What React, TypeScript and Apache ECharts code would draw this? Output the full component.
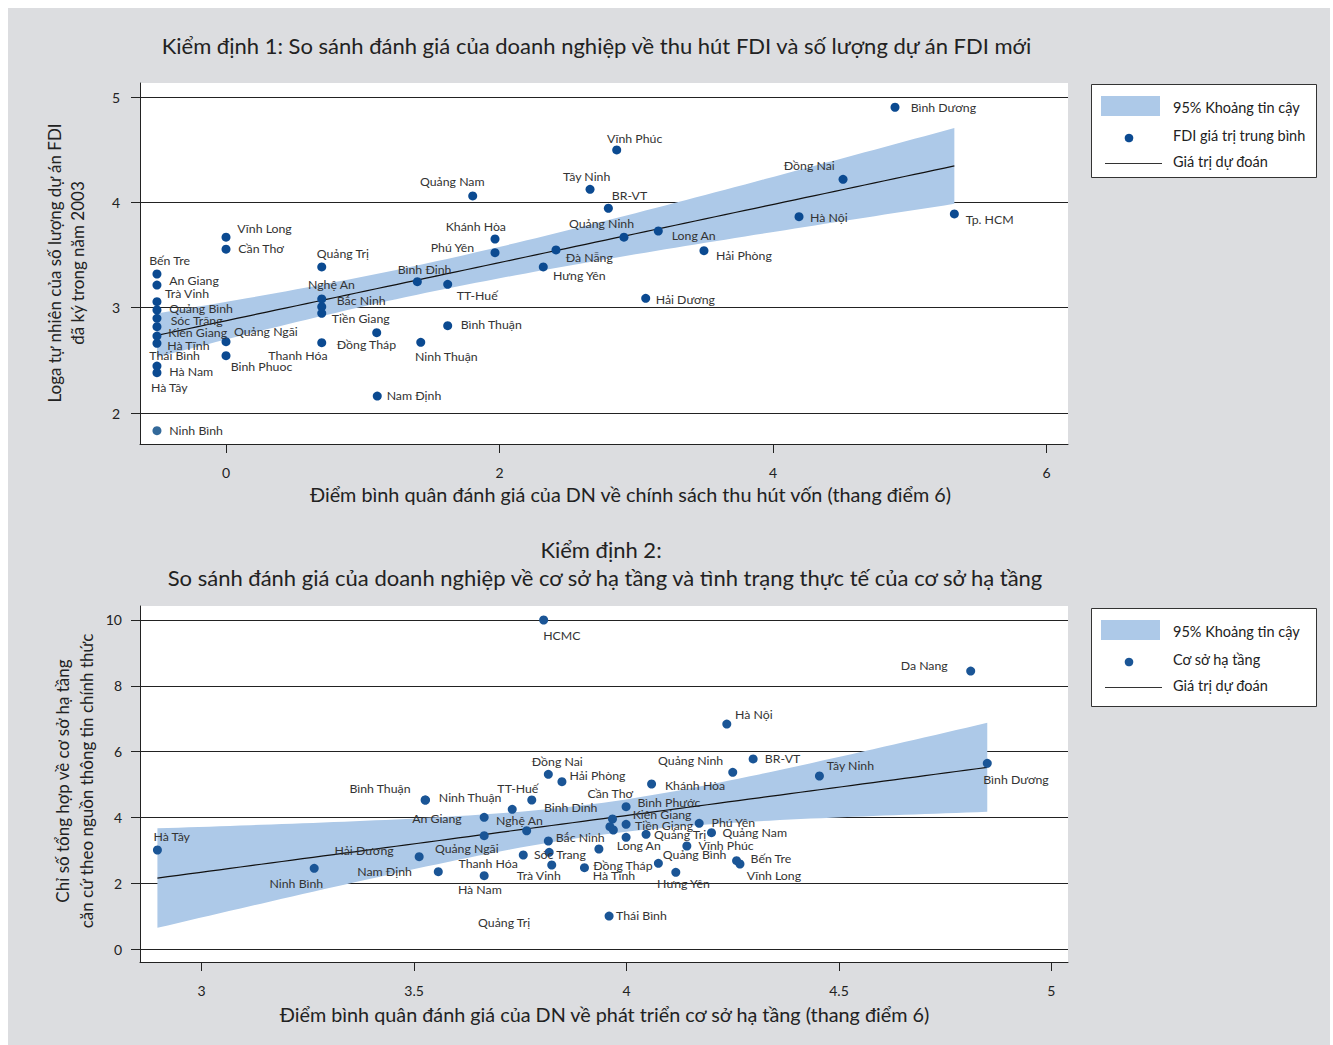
import React, { useEffect, useRef } from "react";
import * as echarts from "echarts";

const FONT = 'Lato, "Noto Sans", "DejaVu Sans", sans-serif';
const INK = "#222222";
const LABEL_INK = "#333333";
const PANEL_BG = "#dcdde0";
const DOT_FDI = "#0b4a91";
const DOT_MUTED = "#33699a";
const DOT_INFRA = "#1a5596";
const BAND = "#adc9e8";
const FIT_LINE = "#111111";

// ---- Kiểm định 1: chính sách thu hút vốn vs. log số dự án FDI ----
const fdiProvinces = [
  "Bến Tre", "An Giang", "Trà Vinh", "Quảng Bình", "Sóc Trăng", "Kiên Giang", "Hà Tĩnh",
  "Thái Bình", "Hà Nam", "Hà Tây", "Ninh Bình", "Vĩnh Long", "Cần Thơ", "Quảng Ngãi",
  "Binh Phuoc", "Quảng Trị", "Nghệ An", "Bắc Ninh", "Tiền Giang", "Thanh Hóa", "Đồng Tháp",
  "Bình Thuận", "Ninh Thuận", "Nam Định", "Bình Định", "TT-Huế", "Quảng Nam", "Khánh Hòa",
  "Phú Yên", "Vĩnh Phúc", "Tây Ninh", "BR-VT", "Quảng Ninh", "Long An", "Đà Nẵng",
  "Hưng Yên", "Hải Dương", "Hải Phòng", "Hà Nội", "Tp. HCM", "Đồng Nai", "Bình Dương",
];
const fdiPolicyScore = [
  -0.505, -0.505, -0.505, -0.505, -0.505, -0.505, -0.505,
  -0.505, -0.505, -0.505, -0.505, 0, 0, 0,
  0, 0.7, 0.7, 0.7, 0.7, 0.7, 1.102,
  1.621, 1.424, 1.106, 1.399, 1.621, 1.804, 1.967,
  1.967, 2.857, 2.662, 2.796, 2.91, 3.161, 2.413,
  2.32, 3.069, 3.495, 4.19, 5.326, 4.512, 4.892,
];
const fdiLogProjects = [
  3.32, 3.215, 3.057, 2.978, 2.899, 2.82, 2.731,
  2.662, 2.446, 2.383, 1.832, 3.669, 3.555, 2.677,
  2.544, 3.387, 3.083, 3.01, 2.947, 2.668, 2.763,
  2.829, 2.671, 2.161, 3.247, 3.222, 4.061, 3.652,
  3.522, 4.498, 4.124, 3.944, 3.669, 3.728, 3.548,
  3.387, 3.089, 3.541, 3.864, 3.89, 4.219, 4.903,
];
const fdiXTicks = [0, 2, 4, 6];
const fdiYTicks = [2, 3, 4, 5];

// ---- Kiểm định 2: đánh giá hạ tầng vs. chỉ số hạ tầng chính thức ----
const infraProvinces = [
  "HCMC", "Da Nang", "Hà Nội", "BR-VT", "Quảng Ninh", "Tây Ninh", "Bình Dương",
  "Đồng Nai", "Hải Phòng", "Khánh Hòa", "Bình Phước", "Binh Dinh", "TT-Huế", "Bình Thuận",
  "Ninh Thuận", "An Giang", "Quảng Ngãi", "Nghệ An", "Cần Thơ", "Kiên Giang", "Quảng Trị",
  "Tiền Giang", "Long An", "Bắc Ninh", "Thanh Hóa", "Sóc Trang", "Trà Vinh", "Hà Tĩnh",
  "Đồng Tháp", "Hà Nam", "Phú Yên", "Quảng Trị", "Quảng Nam", "Vĩnh Phúc", "Quảng Bình",
  "Hưng Yên", "Bến Tre", "Vĩnh Long", "Thái Bình", "Hà Tây", "Ninh Bình", "Hải Dương",
  "Nam Định",
];
const infraPerception = [
  3.805, 4.81, 4.236, 4.298, 4.25, 4.454, 4.849,
  3.816, 3.848, 4.059, 3.999, 3.731, 3.777, 3.526,
  3.527, 3.665, 3.665, 3.765, 3.967, 3.961, 3.969,
  3.999, 3.999, 3.816, 3.818, 3.757, 3.824, 3.901,
  3.935, 3.665, 4.171, 4.046, 4.2, 4.142, 4.075,
  4.116, 4.259, 4.267, 3.959, 2.896, 3.265, 3.512,
  3.557,
];
const infraIndex = [
  10.0, 8.45, 6.84, 5.78, 5.375, 5.263, 5.648,
  5.314, 5.09, 5.02, 4.33, 4.25, 4.534, 4.534,
  4.53, 4.009, 3.45, 3.6, 3.957, 3.723, 3.623,
  3.796, 3.401, 3.289, 2.946, 2.864, 2.56, 2.478,
  3.046, 2.235, 3.826, 3.492, 3.541, 3.137, 2.612,
  2.338, 2.69, 2.59, 1.01, 3.015, 2.46, 2.812,
  2.357,
];
const infraXTicks = [3, 3.5, 4, 4.5, 5];
const infraYTicks = [0, 2, 4, 6, 8, 10];

// Label placement: offset of the label's left edge / vertical middle from the marker centre (px)
const fdiLabelOffsets: [number, number][] = [
  [-7.7, -13.3], [12.3, -4.3], [8, -8.4], [12.3, -1.7], [13.7, 2.4], [11.3, 5.6], [10.3, 9.7],
  [-7.7, 12.4], [12.3, 5], [-6, 15.3], [12.3, -0.7], [11.3, -8.3], [12.3, -0.3], [8, -10],
  [4.7, 11], [-5, -13.7], [-13.7, -14.7], [15, -6], [10, 5.7], [-53.4, 13.3], [-40, 12.3],
  [13, -1.4], [-5.7, 14.4], [9.4, -0.7], [-19.6, -11.7], [9, 11.4], [-52.7, -14], [-49.3, -12.3],
  [-64.3, -5], [-9.7, -11], [-27, -12.6], [3.4, -12.3], [-55, -13.6], [13.4, 4.7], [9.7, 7.7],
  [9.7, 8.3], [10, 1], [12, 5], [11, 0.6], [11.4, 5.3], [-59.3, -13.6], [15.7, 0],
];
const infraLabelOffsets: [number, number][] = [
  [-0.5, 15.7], [-70, -6], [8.3, -10], [11.7, 0], [-74.7, -11.3], [7.4, -10.3], [-4, 15.7],
  [-16.6, -13.3], [7.6, -5.7], [13.3, 1.7], [11.3, -4], [31.7, -1.6], [-34.4, -11], [-75.7, -11],
  [13.3, -2.7], [-72, 1], [-49.3, 12.6], [-30.7, -10.7], [-25, -25.7], [22.7, -11.7], [-135.3, 92.7],
  [9, 1.4], [-9.3, 8.7], [7.4, -3.3], [-90.7, 11.7], [10.7, 0], [-35, 11], [8.4, 8.3],
  [-5.7, 17], [-26.3, 14.3], [12.4, -0.6], [8, 0.7], [11, 0], [11.6, 0], [4.4, -8.3],
  [-18.7, 11], [14, -2.4], [6.7, 11], [7, -1], [-4, -13.3], [-44.7, 15], [-84.7, -5.7],
  [-81, 0],
];
const fdiMutedPoints = ["Ninh Bình"];

// Ordinary least squares fit with 95% confidence band for the mean prediction
function fitWithConfidence(xs: number[], ys: number[], steps = 80) {
  const n = xs.length;
  const mx = xs.reduce((a, b) => a + b, 0) / n;
  const my = ys.reduce((a, b) => a + b, 0) / n;
  let sxx = 0;
  let sxy = 0;
  for (let i = 0; i < n; i++) {
    sxx += (xs[i] - mx) ** 2;
    sxy += (xs[i] - mx) * (ys[i] - my);
  }
  const slope = sxy / sxx;
  const intercept = my - slope * mx;
  let sse = 0;
  for (let i = 0; i < n; i++) sse += (ys[i] - intercept - slope * xs[i]) ** 2;
  const s = Math.sqrt(sse / (n - 2));
  const tCrit = 2.02; // t(0.975) for ~40 degrees of freedom
  const lo = Math.min(...xs);
  const hi = Math.max(...xs);
  const fit: number[][] = [];
  const upper: number[][] = [];
  const lower: number[][] = [];
  for (let k = 0; k <= steps; k++) {
    const x = lo + ((hi - lo) * k) / steps;
    const yhat = intercept + slope * x;
    const se = s * Math.sqrt(1 / n + (x - mx) ** 2 / sxx);
    fit.push([x, yhat]);
    upper.push([x, yhat + tCrit * se]);
    lower.push([x, yhat - tCrit * se]);
  }
  return { fit, upper, lower };
}

function bandSeries(idx: number, band: { upper: number[][]; lower: number[][] }) {
  return {
    type: "custom",
    xAxisIndex: idx,
    yAxisIndex: idx,
    z: 1,
    silent: true,
    data: [band.upper[0]],
    encode: { x: 0, y: 1 },
    renderItem: (_params: any, api: any) => {
      const pts = band.upper
        .map((p) => api.coord(p))
        .concat(band.lower.slice().reverse().map((p) => api.coord(p)));
      return { type: "polygon", shape: { points: pts }, style: { fill: BAND } };
    },
  };
}

function fitSeries(idx: number, fit: number[][]) {
  return {
    type: "line",
    xAxisIndex: idx,
    yAxisIndex: idx,
    z: 2,
    silent: true,
    symbol: "none",
    data: fit,
    lineStyle: { color: FIT_LINE, width: 1.2 },
  };
}

function scatterSeries(
  idx: number,
  names: string[],
  xs: number[],
  ys: number[],
  offsets: [number, number][],
  color: string,
  muted: string[] = []
) {
  return {
    type: "scatter",
    xAxisIndex: idx,
    yAxisIndex: idx,
    z: 3,
    symbolSize: 9,
    itemStyle: { color, opacity: 1 },
    emphasis: { disabled: true },
    data: names.map((name, i) => ({
      name,
      value: [xs[i], ys[i]],
      itemStyle: muted.includes(name) ? { color: DOT_MUTED } : undefined,
    })),
    label: {
      show: true,
      formatter: "{b}",
      fontFamily: FONT,
      fontSize: 12.3,
      color: LABEL_INK,
    },
    labelLayout: (p: any) => {
      const [dx, dy] = offsets[p.dataIndex];
      return {
        x: p.rect.x + p.rect.width / 2 + dx,
        y: p.rect.y + p.rect.height / 2 + dy,
        align: "left",
        verticalAlign: "middle",
      };
    },
  };
}

function valueAxis(
  idx: number,
  min: number,
  max: number,
  ticks: number[],
  isY: boolean,
  labelMargin: number
) {
  return {
    type: "value",
    gridIndex: idx,
    min,
    max,
    axisLine: { show: true, onZero: false, lineStyle: { color: INK, width: 1 } },
    axisTick: { show: true, inside: false, length: 9, customValues: ticks, lineStyle: { color: INK, width: 1 } },
    axisLabel: {
      customValues: ticks,
      margin: labelMargin,
      fontFamily: FONT,
      fontSize: 14,
      color: INK,
      formatter: (v: number) => String(v),
    },
    splitLine: { show: isY, lineStyle: { color: INK, width: 1 } },
    minorTick: { show: false },
    minorSplitLine: { show: false },
  };
}

function legendBox(top: number, height: number, dotColor: string, dotLabel: string) {
  const rowA = top + 23;
  const rowB = top + 51;
  const rowC = top + 77;
  const txt = (y: number, text: string) => ({
    type: "text",
    x: 1173,
    y,
    style: { text, fontFamily: FONT, fontSize: 14.5, fill: INK, align: "left", verticalAlign: "middle" },
  });
  return [
    { type: "rect", shape: { x: 1091.5, y: top + 0.5, width: 225, height }, style: { fill: "#ffffff", stroke: "#333333", lineWidth: 1 } },
    { type: "rect", shape: { x: 1101, y: rowA - 11, width: 59, height: 20 }, style: { fill: BAND } },
    txt(rowA, "95% Khoảng tin cậy"),
    { type: "circle", shape: { cx: 1129, cy: rowB + 3, r: 4.3 }, style: { fill: dotColor } },
    txt(rowB, dotLabel),
    { type: "line", shape: { x1: 1105, y1: rowC + 2.5, x2: 1162, y2: rowC + 2.5 }, style: { stroke: "#333333", lineWidth: 1 } },
    txt(rowC, "Giá trị dự đoán"),
  ];
}

function textAt(x: number, y: number, text: string, size: number, rotate = 0) {
  return {
    type: "text",
    x,
    y,
    rotation: rotate,
    style: { text, fontFamily: FONT, fontSize: size, fill: INK, align: "center", verticalAlign: "middle" },
  };
}

function buildOption() {
  const fdiBand = fitWithConfidence(fdiPolicyScore, fdiLogProjects);
  const infraBand = fitWithConfidence(infraPerception, infraIndex);

  return {
    animation: false,
    textStyle: { fontFamily: FONT },
    grid: [
      { left: 140, top: 83, width: 928, height: 361, show: true, backgroundColor: "#ffffff", borderWidth: 0, outerBoundsMode: "none" },
      { left: 140, top: 606, width: 928, height: 356, show: true, backgroundColor: "#ffffff", borderWidth: 0, outerBoundsMode: "none" },
    ],
    xAxis: [
      valueAxis(0, -0.629, 6.157, fdiXTicks, false, 21),
      valueAxis(1, 2.855, 5.039, infraXTicks, false, 21),
    ],
    yAxis: [
      valueAxis(0, 1.706, 5.133, fdiYTicks, true, 20),
      valueAxis(1, -0.386, 10.425, infraYTicks, true, 18),
    ],
    series: [
      bandSeries(0, fdiBand),
      fitSeries(0, fdiBand.fit),
      scatterSeries(0, fdiProvinces, fdiPolicyScore, fdiLogProjects, fdiLabelOffsets, DOT_FDI, fdiMutedPoints),
      bandSeries(1, infraBand),
      fitSeries(1, infraBand.fit),
      scatterSeries(1, infraProvinces, infraPerception, infraIndex, infraLabelOffsets, DOT_INFRA),
    ],
    graphic: [
      { type: "rect", z: -100, silent: true, shape: { x: 8, y: 8, width: 1322, height: 1037 }, style: { fill: PANEL_BG } },
      textAt(596.5, 45, "Kiểm định 1: So sánh đánh giá của doanh nghiệp về thu hút FDI và số lượng dự án FDI mới", 22),
      textAt(601, 549, "Kiểm định 2:", 22),
      textAt(605, 577, "So sánh đánh giá của doanh nghiệp về cơ sở hạ tầng và tình trạng thực tế của cơ sở hạ tầng", 22),
      textAt(630.5, 494, "Điểm bình quân đánh giá của DN về chính sách thu hút vốn (thang điểm 6)", 19.8),
      textAt(604.5, 1014, "Điểm bình quân đánh giá của DN về phát triển cơ sở hạ tầng (thang điểm 6)", 19.8),
      textAt(54, 263, "Loga tự nhiên của số lượng dự án FDI", 17, Math.PI / 2),
      textAt(77, 263, "đã ký trong năm 2003", 17, Math.PI / 2),
      textAt(62, 781, "Chỉ số tổng hợp về cơ sở hạ tầng", 17, Math.PI / 2),
      textAt(86, 781, "căn cứ theo nguồn thông tin chính thức", 17, Math.PI / 2),
      ...legendBox(84, 93, DOT_FDI, "FDI giá trị trung bình"),
      ...legendBox(608, 98, DOT_INFRA, "Cơ sở hạ tầng"),
    ],
  };
}

export default function App() {
  const ref = useRef<HTMLDivElement>(null);
  useEffect(() => {
    const chart = echarts.init(ref.current!, null, { renderer: "svg" });
    chart.setOption(buildOption() as any);
    return () => chart.dispose();
  }, []);
  return (
    <div
      ref={ref}
      style={{ position: "absolute", left: 0, top: 0, width: 1333, height: 1045 }}
    />
  );
}
